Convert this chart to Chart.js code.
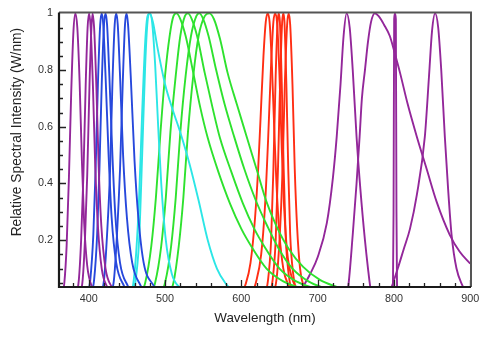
<!DOCTYPE html>
<html>
<head>
<meta charset="utf-8">
<script src="https://cdn.jsdelivr.net/npm/chart.js@4/dist/chart.umd.min.js"></script>
<style>
  body { margin: 0; background: #fff; }
  #wrap { width: 490px; height: 353px; }
</style>
</head>
<body>
<div id="wrap"><canvas id="spectra" width="490" height="353"></canvas></div>
<script>
// tick labels
const xTicks = [400, 500, 600, 700, 800, 900];
const yTicks = [0.2, 0.4, 0.6, 0.8, 1];

// spectra, [wavelength nm, relative intensity]
const uv383 = [[364,0],[368,0.05],[371,0.18],[374,0.42],[377,0.72],[380,0.94],[382.5,1],[385,0.95],[388,0.76],[391,0.48],[394,0.26],[398,0.11],[405,0.03],[410,0]];
const uv400 = [[383,0],[387,0.06],[390,0.2],[393,0.43],[396,0.75],[398.5,0.95],[400.5,1],[402.5,0.95],[405.5,0.74],[408.5,0.46],[412,0.25],[417,0.1],[425,0.03],[430,0]];
const uv405 = [[388,0],[392,0.06],[395,0.2],[398,0.43],[401,0.75],[403.5,0.95],[405,1],[407,0.95],[410,0.74],[413,0.46],[416.5,0.25],[422,0.1],[431,0.03],[436,0]];

const blue417 = [[398,0],[402,0.06],[406,0.22],[409,0.45],[412,0.75],[415,0.96],[417,1],[419,0.96],[422,0.78],[426,0.5],[430,0.28],[436,0.12],[446,0.04],[456,0]];
const blue422 = [[402,0],[407,0.06],[411,0.22],[414,0.45],[417,0.75],[420,0.96],[422,1],[424,0.96],[427,0.78],[431,0.5],[435,0.28],[441,0.12],[451,0.04],[461,0]];
const blue436 = [[414,0],[420,0.06],[424,0.22],[428,0.45],[431,0.75],[434,0.96],[436,1],[438,0.96],[441,0.78],[445,0.5],[450,0.28],[457,0.12],[468,0.04],[478,0]];
const blue450 = [[427,0],[433,0.06],[437,0.22],[441,0.45],[444.5,0.75],[447.5,0.96],[449.5,1],[451.5,0.96],[455,0.78],[460,0.48],[465,0.28],[472,0.12],[485,0.04],[495,0]];

const cyan480 = [[452,0],[458,0.04],[462,0.15],[466,0.35],[470,0.65],[474,0.9],[477,0.99],[480,1],[483,0.97],[487,0.82],[491,0.6],[495,0.4],[501,0.2],[509,0.08],[520,0.03],[530,0]];
const cyan481 = [[455,0],[461,0.05],[466,0.2],[470,0.5],[474,0.82],[477,0.97],[480,1],[484,0.97],[490,0.88],[500,0.75],[510,0.66],[520,0.58],[532,0.47],[544,0.34],[556,0.2],[568,0.1],[580,0.045],[592,0.01]];

const green515 = [[466,0],[474,0.05],[482,0.18],[488,0.35],[494,0.58],[500,0.78],[506,0.92],[511,0.99],[515,1],[520,0.98],[527,0.92],[537,0.79],[546,0.67],[556,0.56],[570,0.44],[585,0.33],[600,0.24],[615,0.17],[633,0.1],[655,0.055],[680,0.03],[700,0.015]];
const green530 = [[479,0],[487,0.05],[495,0.18],[501,0.35],[507,0.58],[514,0.78],[520,0.92],[526,0.99],[530,1],[535,0.98],[542,0.92],[552,0.79],[562,0.67],[572,0.56],[587,0.44],[602,0.33],[617,0.24],[632,0.17],[650,0.1],[672,0.055],[697,0.03],[717,0.015]];
const green545 = [[492,0],[500,0.05],[508,0.18],[514,0.35],[520,0.58],[527,0.78],[534,0.92],[541,0.99],[545,1],[550,0.98],[557,0.92],[567,0.8],[578,0.68],[590,0.57],[604,0.45],[619,0.34],[634,0.25],[649,0.17],[667,0.1],[688,0.055],[710,0.03],[730,0.015]];
const green558 = [[503,0],[511,0.05],[518,0.18],[524,0.35],[530,0.58],[537,0.78],[544,0.92],[552,0.99],[558,1],[564,0.98],[572,0.91],[582,0.79],[594,0.68],[607,0.565],[620,0.45],[633,0.335],[646,0.25],[662,0.17],[681,0.106],[703,0.06],[725,0.035],[745,0.015]];

const red635 = [[598,0],[605,0.04],[612,0.12],[618,0.28],[622,0.45],[625,0.62],[629,0.85],[632,0.97],[634.5,1],[637,0.97],[640,0.82],[643,0.6],[646,0.4],[650,0.22],[655,0.1],[662,0.04],[670,0]];
const red645 = [[612,0],[619,0.05],[626,0.15],[631,0.32],[635,0.55],[639,0.82],[642,0.97],[644.5,1],[647,0.96],[650,0.78],[653,0.52],[656,0.32],[660,0.16],[666,0.07],[674,0.02]];
const red649 = [[630,0],[635,0.06],[639,0.2],[642,0.45],[645,0.78],[647.5,0.97],[649,1],[650.5,0.97],[653,0.75],[655.5,0.45],[658,0.22],[662,0.08],[668,0]];
const red655 = [[636,0],[641,0.06],[645,0.2],[648,0.45],[651,0.78],[653.5,0.97],[655,1],[656.5,0.97],[659,0.75],[661.5,0.45],[664,0.22],[668,0.08],[674,0]];
const red662 = [[640,0],[646,0.06],[650,0.2],[654,0.45],[657,0.75],[660,0.96],[662,1],[664,0.96],[667,0.75],[670,0.45],[673,0.25],[677,0.1],[684,0.02]];

const ir738 = [[675,0],[681,0.035],[690,0.08],[700,0.14],[712,0.26],[720,0.42],[725,0.565],[730,0.75],[734,0.92],[738,1],[742,0.95],[746,0.8],[751,0.565],[756,0.38],[762,0.2],[766,0.1],[769,0.035],[772,0]];
const ir775 = [[736,0],[740,0.035],[746,0.22],[751,0.4],[755,0.565],[758,0.7],[762,0.8],[766,0.9],[770,0.97],[775,1],[780,0.99],[787,0.96],[794.6,0.92],[801,0.86],[808,0.79],[818,0.68],[830,0.565],[843,0.45],[856,0.335],[873,0.22],[886,0.16],[900,0.117]];
const ir801 = [[798.5,0],[799.5,0.3],[800.3,0.98],[801.3,1],[802.5,0.98],[803.3,0.3],[804.2,0]];
const ir855 = [[792,0],[797,0.035],[805,0.1],[813,0.17],[821,0.24],[830,0.36],[840.5,0.565],[846,0.78],[850,0.94],[854,1],[858,0.95],[862,0.8],[866.7,0.565],[871,0.38],[875.5,0.22],[882,0.1],[890.6,0.035],[896,0]];

const violet = '#93279a';
const blue = '#2748dc';
const cyan = '#2ce6e6';
const green = '#2ee22e';
const red = '#ff2e14';

const curves = [
    [uv383, violet], [uv400, violet], [uv405, violet],
    [blue417, blue], [blue422, blue], [blue436, blue], [blue450, blue],
    [cyan480, cyan], [cyan481, cyan],
    [green515, green], [green530, green], [green545, green], [green558, green],
    [red635, red], [red645, red], [red649, red], [red655, red], [red662, red],
    [ir738, violet], [ir775, violet], [ir801, violet], [ir855, violet]
];

const fontFamily = '"Liberation Sans", Arial, Helvetica, sans-serif';

// inward ticks and the box round the plot
const frame = {
    id: 'frame',
    afterDatasetsDraw(chart) {
        const { ctx, chartArea: a, scales: { x, y } } = chart;
        ctx.save();
        ctx.strokeStyle = '#222';
        ctx.lineWidth = 1.3;
        ctx.beginPath();
        for (let v = 380; v <= 900; v += 20) {
            const px = Math.round(x.getPixelForValue(v)) + 0.5;
            const len = xTicks.includes(v) ? 7 : 4;
            ctx.moveTo(px, a.bottom);
            ctx.lineTo(px, a.bottom - len);
        }
        for (let i = 1; i <= 19; i++) {
            const v = i * 0.05;
            const py = Math.round(y.getPixelForValue(v)) + 0.5;
            const len = i % 4 === 0 ? 7 : 4;
            ctx.moveTo(a.left, py);
            ctx.lineTo(a.left + len, py);
        }
        ctx.stroke();

        ctx.lineWidth = 2;
        ctx.strokeStyle = '#555';
        ctx.beginPath();
        ctx.moveTo(a.left, a.top);
        ctx.lineTo(a.right, a.top);
        ctx.lineTo(a.right, a.bottom);
        ctx.stroke();
        ctx.strokeStyle = '#1a1a1a';
        ctx.lineWidth = 2.2;
        ctx.beginPath();
        ctx.moveTo(a.left, a.top);
        ctx.lineTo(a.left, a.bottom);
        ctx.lineTo(a.right, a.bottom);
        ctx.stroke();
        ctx.restore();
    }
};

const ctx = document.getElementById('spectra').getContext('2d');
new Chart(ctx, {
    type: 'line',
    data: {
        datasets: curves.map(([pts, color]) => ({
            data: pts.map(([x, y]) => ({ x, y })),
            borderColor: color,
            borderWidth: 1.9,
            pointRadius: 0,
            fill: false,
            cubicInterpolationMode: 'monotone'
        }))
    },
    options: {
        responsive: false,
        devicePixelRatio: 1,
        animation: false,
        layout: { padding: { top: 6, right: 19, left: 0, bottom: 0 } },
        plugins: { legend: { display: false }, tooltip: { enabled: false } },
        scales: {
            x: {
                type: 'linear',
                min: 361,
                max: 901,
                afterFit: s => { s.height = 66; },
                afterBuildTicks: s => { s.ticks = xTicks.map(v => ({ value: v })); },
                grid: { display: false, drawTicks: false },
                border: { display: false },
                ticks: { color: '#333', padding: 6, font: { family: fontFamily, size: 10.8 } },
                title: { display: true, text: 'Wavelength (nm)', color: '#222', padding: { top: 0, bottom: 27 }, font: { family: fontFamily, size: 13.4 } }
            },
            y: {
                min: 0.035,
                max: 1.003,
                afterFit: s => { s.width = 59; },
                afterBuildTicks: s => { s.ticks = yTicks.map(v => ({ value: v })); },
                grid: { display: false, drawTicks: false },
                border: { display: false },
                ticks: { color: '#333', padding: 6, font: { family: fontFamily, size: 10.8 }, callback: v => String(+v.toFixed(2)) },
                title: { display: true, align: 'end', text: 'Relative Spectral Intensity (W/nm)    ', color: '#222', padding: { top: 9, bottom: 0 }, font: { family: fontFamily, size: 13.8 } }
            }
        }
    },
    plugins: [frame]
});
</script>
</body>
</html>
